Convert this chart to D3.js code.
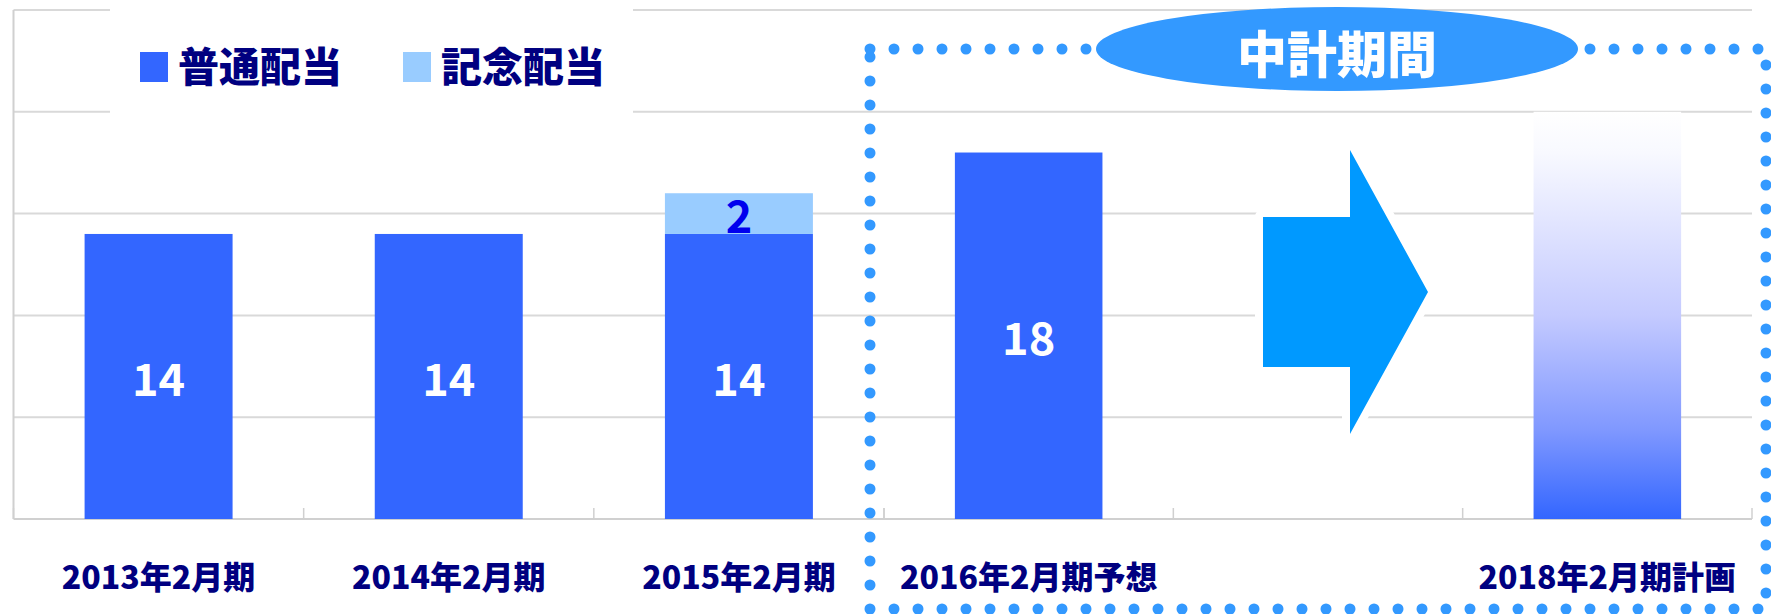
<!DOCTYPE html>
<html>
<head>
<meta charset="utf-8">
<script src="https://cdn.jsdelivr.net/npm/d3@7"></script>
<style>
  body { margin: 0; background: #fff; }
</style>
</head>
<body>
<svg id="chart" width="1771" height="614"></svg>
<script>
// chart data
var categories = ["2013年2月期", "2014年2月期", "2015年2月期", "2016年2月期予想", "", "2018年2月期計画"];
var regular = [14, 14, 14, 18, null, null];
var commemorative = [0, 0, 2, 0, null, null];
var plan = [null, null, null, null, null, 20];
var legendLabels = ["普通配当", "記念配当"];
var periodLabel = "中計期間";
var yTicks = [0, 5, 10, 15, 20, 25];

var jp = "'Noto Sans CJK JP', 'Noto Sans', sans-serif";
var navy = "#000080";
var blue = "#3366ff";
var lightBlue = "#99ccff";

var svg = d3.select("#chart");

var y = d3.scaleLinear().domain([0, 25]).range([519, 10]);

// two panels: actual results on the left, mid-term plan on the right
var xLeft = d3.scaleBand().domain([0, 1, 2]).range([13.5, 884])
  .paddingInner(0.49).paddingOuter(0.245);
var xRight = d3.scaleBand().domain([3, 4, 5]).range([884, 1752])
  .paddingInner(0.49).paddingOuter(0.245);

function xPos(i) { return i < 3 ? xLeft(i) : xRight(i); }
function bw(i) { return i < 3 ? xLeft.bandwidth() : xRight.bandwidth(); }
function cx(i) { return xPos(i) + bw(i) / 2; }

// gradient for the plan bar
var grad = svg.append("defs").append("linearGradient")
  .attr("id", "planGrad").attr("x1", 0).attr("y1", 0).attr("x2", 0).attr("y2", 1);
grad.append("stop").attr("offset", "0").attr("stop-color", "#ffffff");
grad.append("stop").attr("offset", "0.1").attr("stop-color", "#f8f9ff");
grad.append("stop").attr("offset", "0.5").attr("stop-color", "#c4caff");
grad.append("stop").attr("offset", "0.78").attr("stop-color", "#8098ff");
grad.append("stop").attr("offset", "1").attr("stop-color", blue);

// gridlines
svg.append("g").selectAll("line")
  .data(yTicks.slice(1))
  .enter().append("line")
  .attr("x1", 13.5).attr("x2", 1752)
  .attr("y1", function(d) { return y(d); })
  .attr("y2", function(d) { return y(d); })
  .style("stroke", "#d9d9d9")
  .style("stroke-width", 2);

// axes
svg.append("line")
  .attr("x1", 13.5).attr("x2", 13.5).attr("y1", y(25)).attr("y2", y(0))
  .style("stroke", "#d0d0d0").style("stroke-width", 2);
svg.append("line")
  .attr("x1", 13.5).attr("x2", 1752).attr("y1", y(0)).attr("y2", y(0))
  .style("stroke", "#d0d0d0").style("stroke-width", 2);

var tickX = [];
[0, 1, 2, 3].forEach(function(k) {
  tickX.push(13.5 + k * xLeft.step());
  tickX.push(884 + k * xRight.step());
});
svg.append("g").selectAll("line")
  .data(tickX)
  .enter().append("line")
  .attr("x1", function(d) { return d; })
  .attr("x2", function(d) { return d; })
  .attr("y1", y(0) - 11).attr("y2", y(0))
  .style("stroke", "#d0d0d0").style("stroke-width", 1.5);

// legend box hides the gridlines behind it
svg.append("rect")
  .attr("x", 110).attr("y", 2).attr("width", 523).attr("height", 113)
  .style("fill", "#fff");

var legend = svg.append("g").selectAll("g")
  .data(legendLabels)
  .enter().append("g")
  .attr("transform", function(d, i) { return "translate(" + (140 + i * 263) + ",0)"; });
legend.append("rect")
  .attr("x", 0).attr("y", 52).attr("width", 28).attr("height", 30)
  .style("fill", function(d, i) { return i == 0 ? blue : lightBlue; });
legend.append("text")
  .attr("x", 38).attr("y", 64)
  .attr("dominant-baseline", "central")
  .style("font", "900 41px " + jp)
  .style("fill", navy)
  .text(function(d) { return d; });

// stacked bars
var idx = d3.range(categories.length);

svg.append("g").selectAll("rect")
  .data(idx.filter(function(i) { return regular[i] != null; }))
  .enter().append("rect")
  .attr("x", function(i) { return xPos(i); })
  .attr("width", function(i) { return bw(i); })
  .attr("y", function(i) { return y(regular[i]); })
  .attr("height", function(i) { return y(0) - y(regular[i]); })
  .style("fill", blue);

svg.append("g").selectAll("rect")
  .data(idx.filter(function(i) { return commemorative[i] > 0; }))
  .enter().append("rect")
  .attr("x", function(i) { return xPos(i); })
  .attr("width", function(i) { return bw(i); })
  .attr("y", function(i) { return y(regular[i] + commemorative[i]); })
  .attr("height", function(i) { return y(regular[i]) - y(regular[i] + commemorative[i]); })
  .style("fill", lightBlue);

svg.append("g").selectAll("rect")
  .data(idx.filter(function(i) { return plan[i] != null; }))
  .enter().append("rect")
  .attr("x", function(i) { return xPos(i); })
  .attr("width", function(i) { return bw(i); })
  .attr("y", function(i) { return y(plan[i]); })
  .attr("height", function(i) { return y(0) - y(plan[i]); })
  .style("fill", "url(#planGrad)");

// value labels
svg.append("g").selectAll("text")
  .data(idx.filter(function(i) { return regular[i] != null; }))
  .enter().append("text")
  .attr("x", function(i) { return cx(i); })
  .attr("y", function(i) { return y(regular[i] / 2); })
  .attr("text-anchor", "middle")
  .attr("dominant-baseline", "central")
  .style("font", "bold 45px " + jp)
  .style("fill", "#fff")
  .text(function(i) { return regular[i]; });

svg.append("g").selectAll("text")
  .data(idx.filter(function(i) { return commemorative[i] > 0; }))
  .enter().append("text")
  .attr("x", function(i) { return cx(i); })
  .attr("y", function(i) { return y(regular[i] + commemorative[i] / 2); })
  .attr("text-anchor", "middle")
  .attr("dominant-baseline", "central")
  .style("font", "bold 45px " + jp)
  .style("fill", "#0000ee")
  .text(function(i) { return commemorative[i]; });

// category labels
svg.append("g").selectAll("text")
  .data(idx)
  .enter().append("text")
  .attr("x", function(i) { return cx(i); })
  .attr("y", 575)
  .attr("text-anchor", "middle")
  .attr("dominant-baseline", "central")
  .style("font", "900 32px " + jp)
  .style("fill", navy)
  .text(function(i) { return categories[i]; });

// arrow in the empty band, pointing to the plan bar
var ax = cx(4), ay = y(11.15);
var arrowPts = [
  [ax - 55, ay - 75], [ax + 32, ay - 75], [ax + 32, ay - 142],
  [ax + 110, ay], [ax + 32, ay + 142], [ax + 32, ay + 75], [ax - 55, ay + 75]
];
svg.append("path")
  .attr("d", "M" + arrowPts.join("L") + "Z")
  .style("fill", "#0099ff")
  .style("stroke", "#fff")
  .style("stroke-width", 16)
  .style("stroke-linejoin", "round")
  .style("paint-order", "stroke");

// dotted frame round the mid-term plan period
svg.append("rect")
  .attr("x", 870).attr("y", 49).attr("width", 896).attr("height", 560)
  .style("fill", "none")
  .style("stroke", "#3399ff")
  .style("stroke-width", 11)
  .style("stroke-linecap", "round")
  .style("stroke-dasharray", "0 24");

svg.append("ellipse")
  .attr("cx", 1337).attr("cy", 49).attr("rx", 241).attr("ry", 42)
  .style("fill", "#3399ff");
svg.append("text")
  .attr("x", 1337).attr("y", 51)
  .attr("text-anchor", "middle")
  .attr("dominant-baseline", "central")
  .style("font", "900 50px " + jp)
  .style("fill", "#fff")
  .text(periodLabel);
</script>
</body>
</html>
